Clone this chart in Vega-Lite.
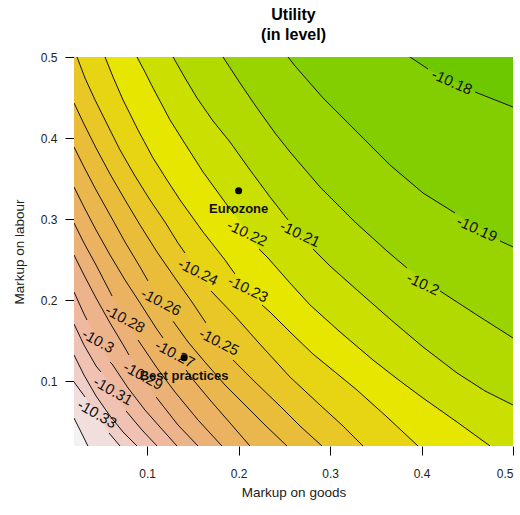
{
  "$schema": "https://vega.github.io/schema/vega-lite/v6.json",
  "width": 439,
  "height": 389,
  "autosize": {"type": "none"},
  "padding": {"left": 74, "top": 57, "right": 7, "bottom": 69},
  "background": "white",
  "config": {"view": {"stroke": null, "fill": "#6DC800"}},
  "title": {"text": ["Utility", "(in level)"], "font": "Liberation Sans", "fontSize": 16, "fontWeight": "bold", "color": "black", "lineHeight": 20, "anchor": "middle", "offset": 8},
  "datasets": {
    "c": [
      {"l": -10.18, "s": "a", "x": 0.02, "y": 0.8},
      {"l": -10.18, "s": "a", "x": 0.3874, "y": 0.5},
      {"l": -10.18, "s": "a", "x": 0.4071, "y": 0.4852},
      {"l": -10.18, "s": "b", "x": 0.4585, "y": 0.4568},
      {"l": -10.18, "s": "b", "x": 0.5, "y": 0.4383},

      {"l": -10.19, "s": "a", "x": 0.02, "y": 0.8},
      {"l": -10.19, "s": "a", "x": 0.254, "y": 0.5},
      {"l": -10.19, "s": "a", "x": 0.2617, "y": 0.4889},
      {"l": -10.19, "s": "a", "x": 0.2923, "y": 0.4494},
      {"l": -10.19, "s": "a", "x": 0.3294, "y": 0.4075},
      {"l": -10.19, "s": "a", "x": 0.3655, "y": 0.3667},
      {"l": -10.19, "s": "a", "x": 0.4016, "y": 0.3322},
      {"l": -10.19, "s": "a", "x": 0.4366, "y": 0.3075},
      {"l": -10.19, "s": "b", "x": 0.4858, "y": 0.273},
      {"l": -10.19, "s": "b", "x": 0.5, "y": 0.2656},

      {"l": -10.2, "s": "a", "x": 0.02, "y": 0.8},
      {"l": -10.2, "s": "a", "x": 0.1829, "y": 0.5},
      {"l": -10.2, "s": "a", "x": 0.2015, "y": 0.4679},
      {"l": -10.2, "s": "a", "x": 0.2201, "y": 0.4371},
      {"l": -10.2, "s": "a", "x": 0.2398, "y": 0.4062},
      {"l": -10.2, "s": "a", "x": 0.2562, "y": 0.3828},
      {"l": -10.2, "s": "a", "x": 0.289, "y": 0.3396},
      {"l": -10.2, "s": "a", "x": 0.3272, "y": 0.2964},
      {"l": -10.2, "s": "a", "x": 0.3622, "y": 0.2606},
      {"l": -10.2, "s": "a", "x": 0.3841, "y": 0.2396},
      {"l": -10.2, "s": "b", "x": 0.4202, "y": 0.2113},
      {"l": -10.2, "s": "b", "x": 0.4606, "y": 0.1816},
      {"l": -10.2, "s": "b", "x": 0.5, "y": 0.1533},

      {"l": -10.21, "s": "a", "x": 0.02, "y": 0.8},
      {"l": -10.21, "s": "a", "x": 0.1283, "y": 0.5},
      {"l": -10.21, "s": "a", "x": 0.1414, "y": 0.4741},
      {"l": -10.21, "s": "a", "x": 0.1545, "y": 0.4494},
      {"l": -10.21, "s": "a", "x": 0.172, "y": 0.421},
      {"l": -10.21, "s": "a", "x": 0.1906, "y": 0.3951},
      {"l": -10.21, "s": "a", "x": 0.2124, "y": 0.3606},
      {"l": -10.21, "s": "a", "x": 0.2343, "y": 0.3273},
      {"l": -10.21, "s": "a", "x": 0.254, "y": 0.2989},
      {"l": -10.21, "s": "b", "x": 0.2813, "y": 0.2631},
      {"l": -10.21, "s": "b", "x": 0.2999, "y": 0.2421},
      {"l": -10.21, "s": "b", "x": 0.3294, "y": 0.2125},
      {"l": -10.21, "s": "b", "x": 0.3655, "y": 0.1767},
      {"l": -10.21, "s": "b", "x": 0.4016, "y": 0.1422},
      {"l": -10.21, "s": "b", "x": 0.4388, "y": 0.1101},
      {"l": -10.21, "s": "b", "x": 0.4694, "y": 0.0879},
      {"l": -10.21, "s": "b", "x": 0.5, "y": 0.0706},

      {"l": -10.22, "s": "a", "x": 0.02, "y": 0.8},
      {"l": -10.22, "s": "a", "x": 0.0889, "y": 0.5},
      {"l": -10.22, "s": "a", "x": 0.0976, "y": 0.4815},
      {"l": -10.22, "s": "a", "x": 0.1064, "y": 0.4618},
      {"l": -10.22, "s": "a", "x": 0.125, "y": 0.4223},
      {"l": -10.22, "s": "a", "x": 0.1436, "y": 0.389},
      {"l": -10.22, "s": "a", "x": 0.1611, "y": 0.3581},
      {"l": -10.22, "s": "a", "x": 0.1873, "y": 0.3174},
      {"l": -10.22, "s": "a", "x": 0.195, "y": 0.3063},
      {"l": -10.22, "s": "b", "x": 0.2223, "y": 0.2631},
      {"l": -10.22, "s": "b", "x": 0.2321, "y": 0.252},
      {"l": -10.22, "s": "b", "x": 0.2562, "y": 0.2211},
      {"l": -10.22, "s": "b", "x": 0.2781, "y": 0.194},
      {"l": -10.22, "s": "b", "x": 0.3109, "y": 0.1607},
      {"l": -10.22, "s": "b", "x": 0.3469, "y": 0.1261},
      {"l": -10.22, "s": "b", "x": 0.3765, "y": 0.1002},
      {"l": -10.22, "s": "b", "x": 0.4016, "y": 0.0792},
      {"l": -10.22, "s": "b", "x": 0.4388, "y": 0.0496},
      {"l": -10.22, "s": "b", "x": 0.4749, "y": 0.02},

      {"l": -10.23, "s": "a", "x": 0.02, "y": 0.8},
      {"l": -10.23, "s": "a", "x": 0.0539, "y": 0.5},
      {"l": -10.23, "s": "a", "x": 0.0627, "y": 0.4753},
      {"l": -10.23, "s": "a", "x": 0.0736, "y": 0.447},
      {"l": -10.23, "s": "a", "x": 0.09, "y": 0.4099},
      {"l": -10.23, "s": "a", "x": 0.1064, "y": 0.3754},
      {"l": -10.23, "s": "a", "x": 0.1217, "y": 0.3482},
      {"l": -10.23, "s": "a", "x": 0.1359, "y": 0.3236},
      {"l": -10.23, "s": "a", "x": 0.1611, "y": 0.2841},
      {"l": -10.23, "s": "a", "x": 0.1851, "y": 0.2495},
      {"l": -10.23, "s": "a", "x": 0.196, "y": 0.2322},
      {"l": -10.23, "s": "b", "x": 0.2256, "y": 0.194},
      {"l": -10.23, "s": "b", "x": 0.2343, "y": 0.1853},
      {"l": -10.23, "s": "b", "x": 0.2562, "y": 0.1607},
      {"l": -10.23, "s": "b", "x": 0.2813, "y": 0.1335},
      {"l": -10.23, "s": "b", "x": 0.3054, "y": 0.1113},
      {"l": -10.23, "s": "b", "x": 0.3294, "y": 0.0891},
      {"l": -10.23, "s": "b", "x": 0.3622, "y": 0.0558},
      {"l": -10.23, "s": "b", "x": 0.3961, "y": 0.02},

      {"l": -10.24, "s": "a", "x": 0.02, "y": 0.8},
      {"l": -10.24, "s": "a", "x": 0.0233, "y": 0.5},
      {"l": -10.24, "s": "a", "x": 0.032, "y": 0.4741},
      {"l": -10.24, "s": "a", "x": 0.043, "y": 0.447},
      {"l": -10.24, "s": "a", "x": 0.0572, "y": 0.4149},
      {"l": -10.24, "s": "a", "x": 0.0703, "y": 0.3853},
      {"l": -10.24, "s": "a", "x": 0.0867, "y": 0.3532},
      {"l": -10.24, "s": "a", "x": 0.1031, "y": 0.3236},
      {"l": -10.24, "s": "a", "x": 0.1195, "y": 0.2964},
      {"l": -10.24, "s": "a", "x": 0.1337, "y": 0.2705},
      {"l": -10.24, "s": "a", "x": 0.1414, "y": 0.2581},
      {"l": -10.24, "s": "b", "x": 0.1698, "y": 0.2113},
      {"l": -10.24, "s": "b", "x": 0.196, "y": 0.1804},
      {"l": -10.24, "s": "b", "x": 0.2212, "y": 0.1483},
      {"l": -10.24, "s": "b", "x": 0.2562, "y": 0.1051},
      {"l": -10.24, "s": "b", "x": 0.289, "y": 0.0706},
      {"l": -10.24, "s": "b", "x": 0.313, "y": 0.0459},
      {"l": -10.24, "s": "b", "x": 0.336, "y": 0.02},

      {"l": -10.25, "s": "a", "x": 0.02, "y": 0.4433},
      {"l": -10.25, "s": "a", "x": 0.0309, "y": 0.4173},
      {"l": -10.25, "s": "a", "x": 0.0441, "y": 0.3877},
      {"l": -10.25, "s": "a", "x": 0.0594, "y": 0.3556},
      {"l": -10.25, "s": "a", "x": 0.0758, "y": 0.3236},
      {"l": -10.25, "s": "a", "x": 0.0922, "y": 0.2927},
      {"l": -10.25, "s": "a", "x": 0.1108, "y": 0.2594},
      {"l": -10.25, "s": "a", "x": 0.1304, "y": 0.2273},
      {"l": -10.25, "s": "a", "x": 0.149, "y": 0.1977},
      {"l": -10.25, "s": "a", "x": 0.1643, "y": 0.1718},
      {"l": -10.25, "s": "b", "x": 0.1939, "y": 0.1261},
      {"l": -10.25, "s": "b", "x": 0.2179, "y": 0.099},
      {"l": -10.25, "s": "b", "x": 0.2452, "y": 0.0694},
      {"l": -10.25, "s": "b", "x": 0.2671, "y": 0.0447},
      {"l": -10.25, "s": "b", "x": 0.2912, "y": 0.02},

      {"l": -10.26, "s": "a", "x": 0.02, "y": 0.389},
      {"l": -10.26, "s": "a", "x": 0.0309, "y": 0.3643},
      {"l": -10.26, "s": "a", "x": 0.0441, "y": 0.3359},
      {"l": -10.26, "s": "a", "x": 0.0594, "y": 0.305},
      {"l": -10.26, "s": "a", "x": 0.0758, "y": 0.2717},
      {"l": -10.26, "s": "a", "x": 0.0922, "y": 0.2409},
      {"l": -10.26, "s": "a", "x": 0.1009, "y": 0.2236},
      {"l": -10.26, "s": "b", "x": 0.1283, "y": 0.174},
      {"l": -10.26, "s": "b", "x": 0.1447, "y": 0.1483},
      {"l": -10.26, "s": "b", "x": 0.1632, "y": 0.1236},
      {"l": -10.26, "s": "b", "x": 0.1851, "y": 0.0953},
      {"l": -10.26, "s": "b", "x": 0.207, "y": 0.0706},
      {"l": -10.26, "s": "b", "x": 0.2288, "y": 0.0459},
      {"l": -10.26, "s": "b", "x": 0.2529, "y": 0.02},

      {"l": -10.27, "s": "a", "x": 0.02, "y": 0.3396},
      {"l": -10.27, "s": "a", "x": 0.0309, "y": 0.3149},
      {"l": -10.27, "s": "a", "x": 0.0441, "y": 0.2865},
      {"l": -10.27, "s": "a", "x": 0.0594, "y": 0.2557},
      {"l": -10.27, "s": "a", "x": 0.0758, "y": 0.2248},
      {"l": -10.27, "s": "a", "x": 0.0922, "y": 0.1965},
      {"l": -10.27, "s": "a", "x": 0.1097, "y": 0.1656},
      {"l": -10.27, "s": "a", "x": 0.1173, "y": 0.1533},
      {"l": -10.27, "s": "b", "x": 0.1425, "y": 0.1138},
      {"l": -10.27, "s": "b", "x": 0.1468, "y": 0.1064},
      {"l": -10.27, "s": "b", "x": 0.1687, "y": 0.0768},
      {"l": -10.27, "s": "b", "x": 0.1906, "y": 0.0484},
      {"l": -10.27, "s": "b", "x": 0.2124, "y": 0.02},

      {"l": -10.28, "s": "a", "x": 0.02, "y": 0.2952},
      {"l": -10.28, "s": "a", "x": 0.0309, "y": 0.2705},
      {"l": -10.28, "s": "a", "x": 0.0441, "y": 0.2433},
      {"l": -10.28, "s": "a", "x": 0.0594, "y": 0.21},
      {"l": -10.28, "s": "a", "x": 0.0616, "y": 0.2051},
      {"l": -10.28, "s": "b", "x": 0.09, "y": 0.1508},
      {"l": -10.28, "s": "b", "x": 0.1108, "y": 0.1162},
      {"l": -10.28, "s": "b", "x": 0.1304, "y": 0.0866},
      {"l": -10.28, "s": "b", "x": 0.1556, "y": 0.0521},
      {"l": -10.28, "s": "b", "x": 0.1818, "y": 0.02},

      {"l": -10.29, "s": "a", "x": 0.02, "y": 0.2557},
      {"l": -10.29, "s": "a", "x": 0.0309, "y": 0.231},
      {"l": -10.29, "s": "a", "x": 0.0441, "y": 0.2026},
      {"l": -10.29, "s": "a", "x": 0.0594, "y": 0.1718},
      {"l": -10.29, "s": "a", "x": 0.0758, "y": 0.1409},
      {"l": -10.29, "s": "a", "x": 0.0801, "y": 0.1323},
      {"l": -10.29, "s": "b", "x": 0.1097, "y": 0.0805},
      {"l": -10.29, "s": "b", "x": 0.114, "y": 0.0743},
      {"l": -10.29, "s": "b", "x": 0.1337, "y": 0.0459},
      {"l": -10.29, "s": "b", "x": 0.1556, "y": 0.02},

      {"l": -10.3, "s": "a", "x": 0.02, "y": 0.21},
      {"l": -10.3, "s": "a", "x": 0.0309, "y": 0.1829},
      {"l": -10.3, "s": "a", "x": 0.0342, "y": 0.1755},
      {"l": -10.3, "s": "b", "x": 0.0594, "y": 0.1236},
      {"l": -10.3, "s": "b", "x": 0.0616, "y": 0.1212},
      {"l": -10.3, "s": "b", "x": 0.0791, "y": 0.0916},
      {"l": -10.3, "s": "b", "x": 0.0976, "y": 0.0644},
      {"l": -10.3, "s": "b", "x": 0.114, "y": 0.0434},
      {"l": -10.3, "s": "b", "x": 0.1326, "y": 0.02},

      {"l": -10.31, "s": "a", "x": 0.02, "y": 0.1705},
      {"l": -10.31, "s": "a", "x": 0.0309, "y": 0.1446},
      {"l": -10.31, "s": "a", "x": 0.0441, "y": 0.1187},
      {"l": -10.31, "s": "a", "x": 0.0495, "y": 0.1113},
      {"l": -10.31, "s": "b", "x": 0.0769, "y": 0.0632},
      {"l": -10.31, "s": "b", "x": 0.0944, "y": 0.0397},
      {"l": -10.31, "s": "b", "x": 0.1108, "y": 0.02},

      {"l": -10.32, "s": "a", "x": 0.02, "y": 0.1323},
      {"l": -10.32, "s": "a", "x": 0.0309, "y": 0.1076},
      {"l": -10.32, "s": "a", "x": 0.0441, "y": 0.0817},
      {"l": -10.32, "s": "a", "x": 0.0594, "y": 0.057},
      {"l": -10.32, "s": "a", "x": 0.0736, "y": 0.0373},
      {"l": -10.32, "s": "a", "x": 0.0889, "y": 0.02},

      {"l": -10.33, "s": "a", "x": 0.02, "y": 0.099},
      {"l": -10.33, "s": "a", "x": 0.032, "y": 0.0805},
      {"l": -10.33, "s": "b", "x": 0.0583, "y": 0.036},
      {"l": -10.33, "s": "b", "x": 0.0703, "y": 0.02},

      {"l": -10.34, "s": "a", "x": 0.02, "y": 0.0545},
      {"l": -10.34, "s": "a", "x": 0.0266, "y": 0.0397},
      {"l": -10.34, "s": "a", "x": 0.0352, "y": 0.02}
    ],
    "lab": [
      {"t": "-10.18", "x": 0.4333, "y": 0.4692},
      {"t": "-10.19", "x": 0.4606, "y": 0.2878},
      {"t": "-10.2", "x": 0.4016, "y": 0.2199},
      {"t": "-10.21", "x": 0.2671, "y": 0.2816},
      {"t": "-10.22", "x": 0.2092, "y": 0.2826},
      {"t": "-10.23", "x": 0.2103, "y": 0.2137},
      {"t": "-10.24", "x": 0.1556, "y": 0.2347},
      {"t": "-10.25", "x": 0.1785, "y": 0.1483},
      {"t": "-10.26", "x": 0.1151, "y": 0.1977},
      {"t": "-10.27", "x": 0.1304, "y": 0.1335},
      {"t": "-10.28", "x": 0.0758, "y": 0.1767},
      {"t": "-10.29", "x": 0.0955, "y": 0.1064},
      {"t": "-10.3", "x": 0.0463, "y": 0.1496},
      {"t": "-10.31", "x": 0.0627, "y": 0.0879},
      {"t": "-10.33", "x": 0.0452, "y": 0.0595}
    ],
    "pts": [
      {"name": "Eurozone", "x": 0.2, "y": 0.335},
      {"name": "Best practices", "x": 0.1404, "y": 0.129}
    ]
  },
  "encoding": {
    "x": {"field": "x", "type": "quantitative",
      "scale": {"domain": [0.02, 0.5], "nice": false, "zero": false},
      "axis": {"values": [0.1, 0.2, 0.3, 0.4, 0.5], "format": ".1f", "title": "Markup on goods", "grid": false, "domain": false,
        "tickSize": 9, "tickColor": "black", "labelPadding": 13, "labelFont": "Liberation Sans", "labelFontSize": 12, "labelColor": "#222",
        "titleFont": "Liberation Sans", "titleFontSize": 13.5, "titleFontWeight": "normal", "titleColor": "#222", "titlePadding": 6}},
    "y": {"field": "y", "type": "quantitative",
      "scale": {"domain": [0.02, 0.5], "nice": false, "zero": false},
      "axis": {"values": [0.1, 0.2, 0.3, 0.4, 0.5], "format": ".1f", "title": "Markup on labour", "grid": false, "domain": false,
        "tickSize": 9, "tickColor": "black", "labelPadding": 8, "labelFont": "Liberation Sans", "labelFontSize": 12, "labelColor": "#222",
        "titleFont": "Liberation Sans", "titleFontSize": 13.5, "titleFontWeight": "normal", "titleColor": "#222", "titlePadding": 14}}
  },
  "layer": [
    {
      "data": {"name": "c"},
      "mark": {"type": "area", "clip": true, "interpolate": "linear"},
      "encoding": {
        "y": {"field": "y", "type": "quantitative", "stack": null},
        "y2": {"datum": 0},
        "color": {"field": "l", "type": "ordinal",
          "scale": {"domain": [-10.18, -10.19, -10.2, -10.21, -10.22, -10.23, -10.24, -10.25, -10.26, -10.27, -10.28, -10.29, -10.3, -10.31, -10.32, -10.33, -10.34],
            "range": ["#83CE00", "#9AD400", "#B2DA00", "#CBE000", "#E6E600", "#E7D513", "#E8C727", "#E9BD3A", "#EAB64E", "#EBB262", "#ECB176", "#EDB38A", "#EEB99F", "#EFC2B3", "#F0CFC8", "#F1DFDD", "#F2F2F2"]},
          "legend": null}
      }
    },
    {
      "data": {"name": "c"},
      "mark": {"type": "line", "clip": true, "color": "#111", "strokeWidth": 1},
      "encoding": {"detail": [{"field": "l", "type": "nominal"}, {"field": "s", "type": "nominal"}]}
    },
    {
      "data": {"name": "lab"},
      "mark": {"type": "text", "clip": true, "font": "Liberation Sans", "fontSize": 15, "color": "#111", "align": "center", "baseline": "middle"},
      "encoding": {
        "text": {"field": "t"},
        "angle": {"field": "t", "type": "nominal", "legend": null,
          "scale": {"domain": ["-10.18", "-10.19", "-10.2", "-10.21", "-10.22", "-10.23", "-10.24", "-10.25", "-10.26", "-10.27", "-10.28", "-10.29", "-10.3", "-10.31", "-10.33"],
            "range": [24, 30, 36, 50, 55, 50, 56, 54, 58, 55, 57, 55, 60, 57, 60]}}
      }
    },
    {
      "data": {"name": "pts"},
      "mark": {"type": "point", "filled": true, "color": "black", "size": 50, "opacity": 1}
    },
    {
      "data": {"name": "pts"},
      "mark": {"type": "text", "dy": 18, "font": "Liberation Sans", "fontSize": 13, "fontWeight": "bold", "color": "#111", "align": "center", "baseline": "middle"},
      "encoding": {"text": {"field": "name"}}
    },
    {
      "data": {"values": [{}]},
      "mark": {"type": "rect", "filled": false, "color": "black", "strokeWidth": 1},
      "encoding": {"x": {"datum": 0.02}, "x2": {"datum": 0.5}, "y": {"datum": 0.02}, "y2": {"datum": 0.5}}
    }
  ]
}
